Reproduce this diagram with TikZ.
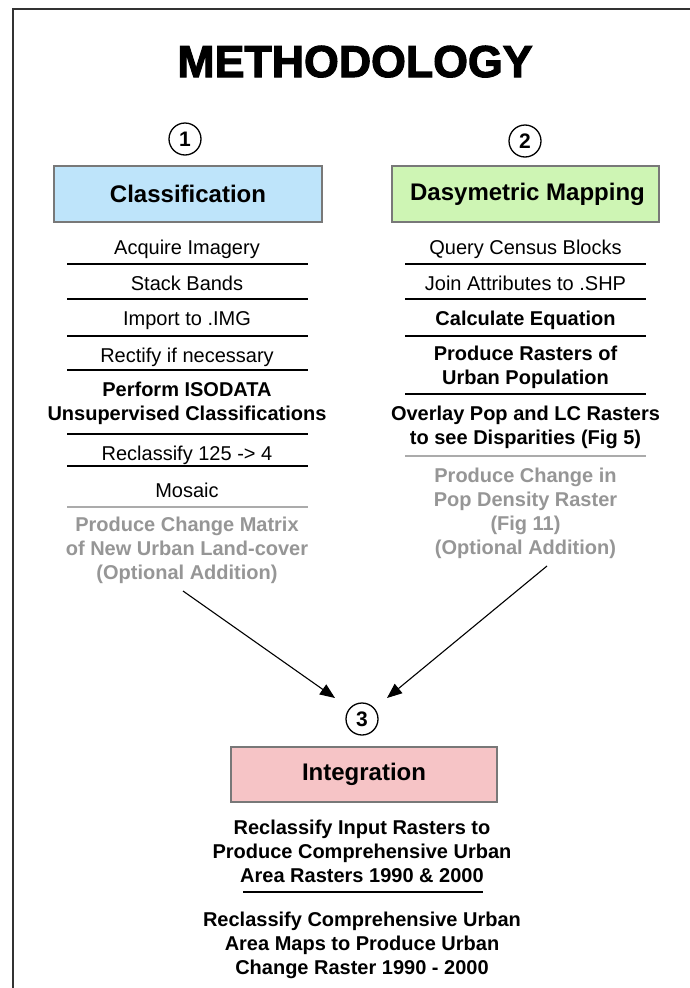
\documentclass[tikz,border=0pt]{standalone}
\usepackage{fontspec}
\setmainfont{Liberation Sans}
\newfontfamily\titlefont[FakeBold=2.5]{Liberation Sans Bold}
\usetikzlibrary{arrows.meta}
\definecolor{boxblue}{RGB}{190,228,250}
\definecolor{boxgreen}{RGB}{206,245,180}
\definecolor{boxpink}{RGB}{246,196,198}
\definecolor{boxedge}{RGB}{120,120,120}
\definecolor{optgray}{RGB}{150,150,150}
\tikzset{
  item/.style={inner sep=0pt, anchor=base, align=center, font=\fontsize{20}{23.7}\selectfont},
  bitem/.style={item, font=\fontsize{20}{23.7}\selectfont\bfseries},
  oitem/.style={bitem, text=optgray},
  sepline/.style={line width=1.6pt, draw=black},
  gsepline/.style={line width=1.6pt, draw=optgray!80},
  stepnum/.style={circle, draw=black, line width=1.3pt, minimum size=32pt, inner sep=0pt, font=\fontsize{21}{24}\selectfont\bfseries},
  headbox/.style={draw=boxedge, line width=1.3pt, inner sep=0pt, font=\fontsize{24}{28}\selectfont\bfseries},
  arr/.style={line width=1.1pt, -{Triangle[length=15pt,width=12pt]}}
}
\begin{document}
\begin{tikzpicture}[x=1pt,y=-1pt]
\useasboundingbox (0,0) rectangle (690,988);
\fill[white] (0,0) rectangle (690,988);
% frame
\draw[line width=2pt, draw=black!80] (13,992) -- (13,9) -- (694,9);
% title
\node[inner sep=0pt, anchor=base, font=\titlefont\fontsize{44.7}{50}\selectfont] (title) at (355,77) {METHODOLOGY};

% step numbers
\node[stepnum] (n1) at (185,139) {1};
\node[stepnum] (n2) at (525,141) {2};
\node[stepnum] (n3) at (362,719) {3};

% header boxes
\node[headbox, fill=boxblue, minimum width=268pt, minimum height=56pt] (classif) at (188,194) {Classification};
\node[headbox, fill=boxgreen, minimum width=267pt, minimum height=56pt] (dasy) at (525.5,194) {\hspace*{4pt}Dasymetric Mapping};
\node[headbox, fill=boxpink, minimum width=266pt, minimum height=55pt] (integ) at (364,774.5) {Integration};

% left column
\node[item] (a1) at (187,254) {Acquire Imagery};
\draw[sepline] (67,264) -- (308,264);
\node[item] (a2) at (187,290) {Stack Bands};
\draw[sepline] (67,299) -- (308,299);
\node[item] (a3) at (187,325) {Import to .IMG};
\draw[sepline] (67,336) -- (308,336);
\node[item] (a4) at (187,362) {Rectify if necessary};
\draw[sepline] (67,370) -- (308,370);
\node[bitem] (a5) at (187,420) {Perform ISODATA\\Unsupervised Classifications};
\draw[sepline] (67,434) -- (308,434);
\node[item] (a6) at (187,460) {Reclassify 125 -> 4};
\draw[sepline] (67,466) -- (308,466);
\node[item] (a7) at (187,497) {Mosaic};
\draw[gsepline] (67,507) -- (308,507);
\node[oitem] (a8) at (187,579) {Produce Change Matrix\\of New Urban Land-cover\\(Optional Addition)};

% right column
\node[item] (b1) at (525.5,254) {Query Census Blocks};
\draw[sepline] (405,264) -- (646,264);
\node[item] (b2) at (525.5,290) {Join Attributes to .SHP};
\draw[sepline] (405,299) -- (646,299);
\node[bitem] (b3) at (525.5,325) {Calculate Equation};
\draw[sepline] (405,336) -- (646,336);
\node[bitem] (b4) at (525.5,384) {Produce Rasters of\\Urban Population};
\draw[sepline] (405,394) -- (646,394);
\node[bitem] (b5) at (525.5,444) {Overlay Pop and LC Rasters\\to see Disparities (Fig 5)};
\draw[gsepline] (405,456) -- (646,456);
\node[oitem] (b6) at (525.5,554) {Produce Change in\\Pop Density Raster\\(Fig 11)\\(Optional Addition)};

% arrows
\coordinate (la) at (183,591);
\coordinate (lt) at (335,698);
\coordinate (ra) at (547,566);
\coordinate (rt) at (387,698);
\draw[arr] (la) -- (lt);
\draw[arr] (ra) -- (rt);

% integration text
\node[bitem] (i1) at (362,882) {Reclassify Input Rasters to\\Produce Comprehensive Urban\\Area Rasters 1990 \& 2000};
\draw[sepline] (243,892) -- (483,892);
\node[bitem] (i2) at (362,974) {Reclassify Comprehensive Urban\\Area Maps to Produce Urban\\Change Raster 1990 - 2000};
\end{tikzpicture}
\end{document}
